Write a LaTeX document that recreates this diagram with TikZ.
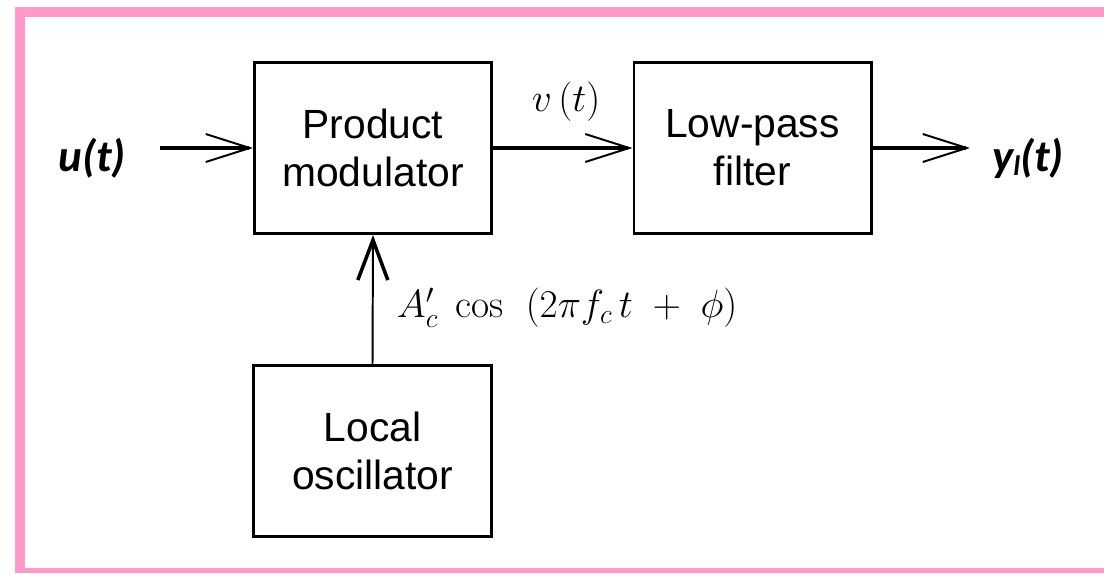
\RequirePackage{fix-cm}
\documentclass[tikz,border=0pt]{standalone}
\usepackage{fontspec}
\newfontfamily\blockfont{Liberation Sans}
\newfontfamily\sigfont{Carlito}
\usetikzlibrary{arrows.meta}
\definecolor{framepink}{HTML}{FF99CC}

\begin{document}
\begin{tikzpicture}[x=0.025cm,y=-0.025cm,
		block/.style={draw,line width=2.1pt,minimum width=5.925cm,minimum height=4.275cm,
			align=center,font=\blockfont\fontsize{29}{34}\selectfont},
		sig/.style={line width=3.5pt,-{Straight Barb[length=1.1cm,width=0.7cm,line width=0pt 0.4]}},
		siglabel/.style={font=\sigfont\bfseries\itshape\fontsize{32}{36}\selectfont},
		mathlabel/.style={font=\fontsize{28}{30}\selectfont}]
	\useasboundingbox (0,0) rectangle (1104,573);
	% pink frame, open on the right
	\fill[framepink] (15,7) rectangle (1104,17);
	\fill[framepink] (15,7) rectangle (25,573);
	\fill[framepink] (15,568) rectangle (1104,573);
	% blocks
	\node[block] (pm) at (373,148) {Product\\modulator};
	\node[block] (lpf) at (752.5,148) {Low-pass\\filter};
	\node[block] (lo) at (372.5,451) {Local\\oscillator};
	% signals
	\node[siglabel] (u) at (92,158) {u(t)};
	\node[siglabel] (y) at (1028,158) {y\raisebox{-0.2ex}{\fontsize{20}{20}\selectfont l}(t)};
	\coordinate (in) at (160,148);
	\coordinate (out) at (970,148);
	\draw[sig] (in) -- (pm.west);
	\draw[sig] (pm.east) -- (lpf.west);
	\draw[sig] (lpf.east) -- (out);
	\node[mathlabel] (v) at (566,102) {$v\,(t)$};
	\draw[line width=1.4pt,-{Straight Barb[length=1cm,width=0.75cm,line width=0pt 1.8]}] (lo.north) -- (pm.south);
	\node[mathlabel,anchor=west] (osc) at (392,308) {$A'_c\;\cos\;\;(2\pi f_c\,t\;+\;\phi)$};
\end{tikzpicture}
\end{document}
